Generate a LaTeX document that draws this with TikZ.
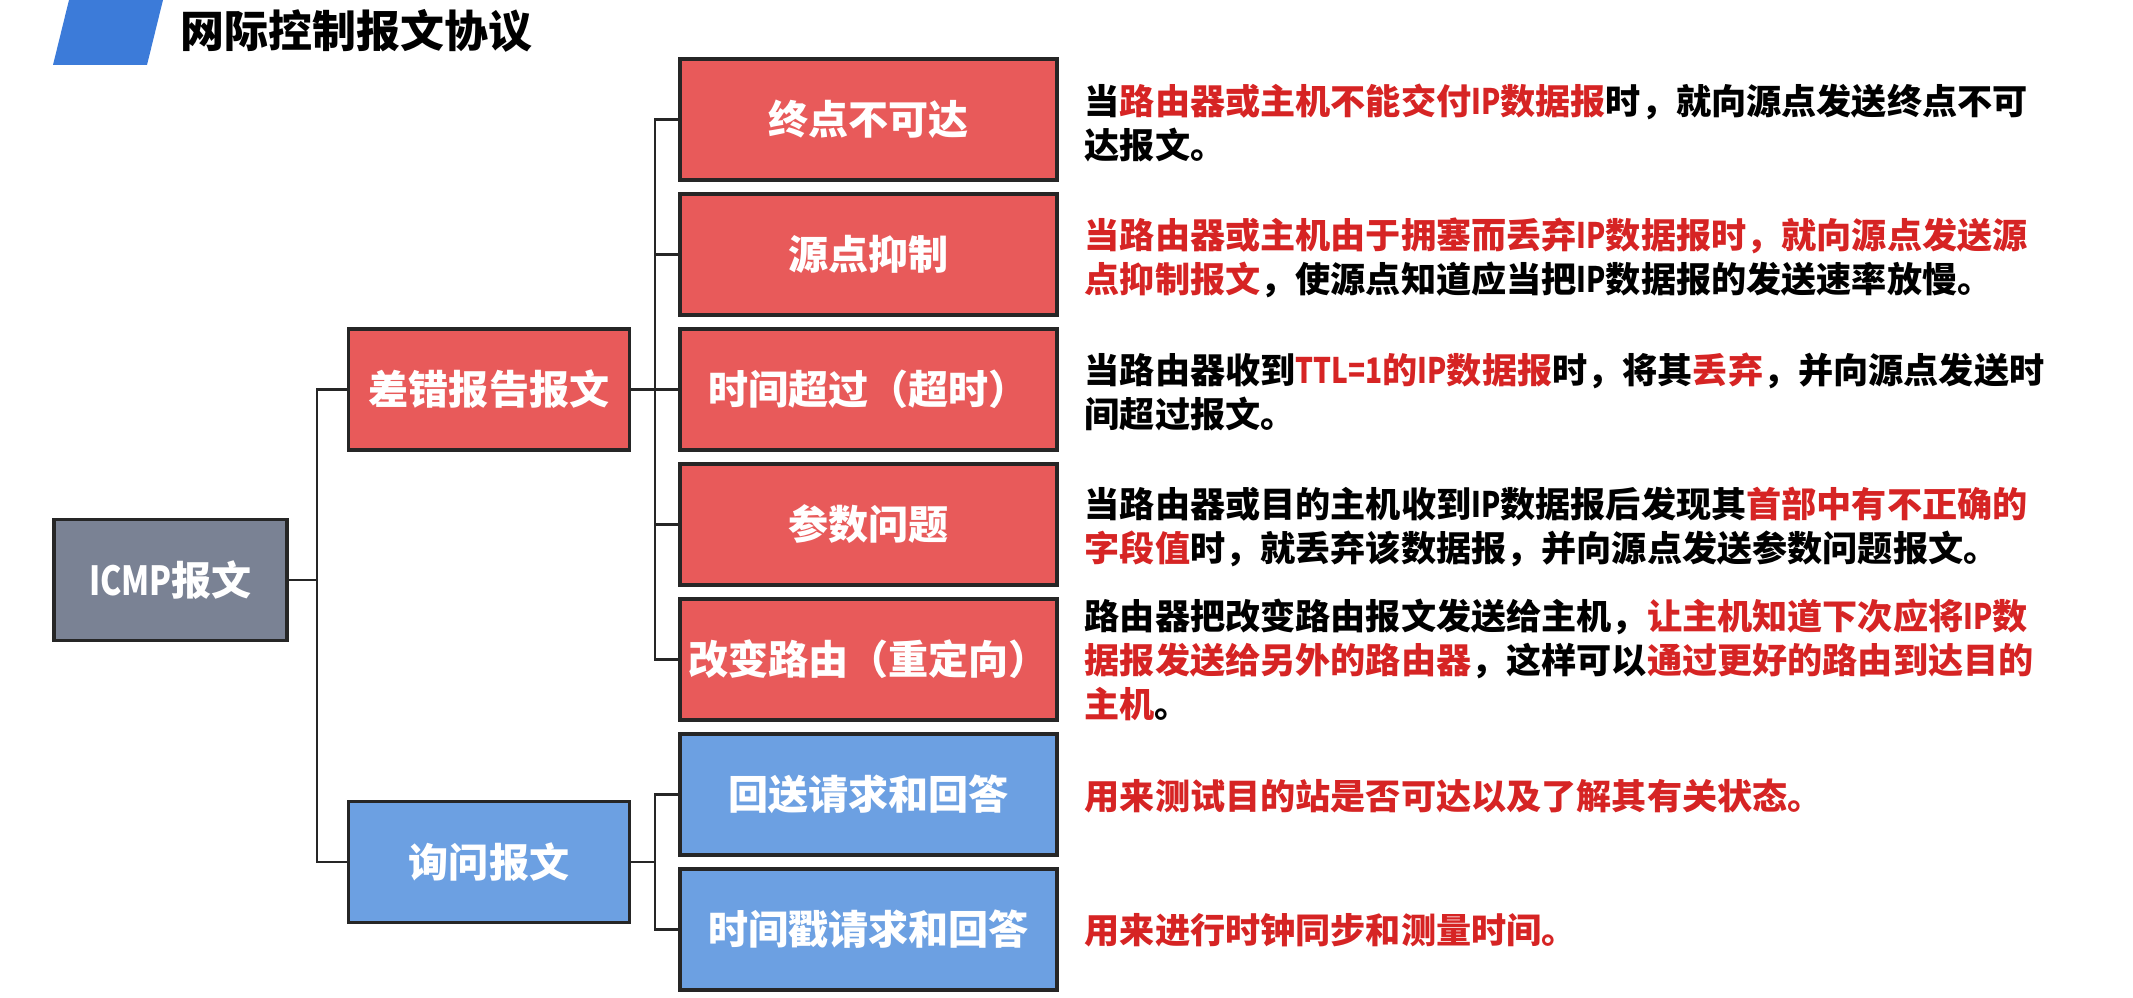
\documentclass[tikz,border=0pt]{standalone}
\usepackage{fontspec}
\setmainfont{Noto Sans CJK SC}
\usetikzlibrary{positioning,calc}
\definecolor{TitleBlue}{RGB}{60,123,217}
\definecolor{ErrRed}{RGB}{232,90,90}
\definecolor{AskBlue}{RGB}{108,160,226}
\definecolor{RootGray}{RGB}{122,130,148}
\definecolor{HotRed}{RGB}{214,36,36}
\newcommand{\hot}[1]{\textcolor{HotRed}{#1}}
\newcommand{\nar}[1]{{\addfontfeature{FakeStretch=0.8}#1}}
\tikzset{
	box/.style={draw=black!85,line width=0.9pt,text=white,inner sep=0pt,
		minimum height=12.1mm,font=\bfseries\fontsize{11.4}{13}\selectfont},
	leaf/.style={box,fill=ErrRed,minimum width=37.7mm},
	ask/.style={box,fill=AskBlue,minimum width=37.7mm},
	mid/.style={box,minimum width=28.1mm},
	note/.style={anchor=west,align=left,inner sep=0pt,
		font=\bfseries\fontsize{10}{12.5}\selectfont},
	conn/.style={draw=black!85,line width=0.7pt},
}

\begin{document}
\begin{tikzpicture}[x=0.1mm,y=-0.1mm]
	\useasboundingbox (0,0) rectangle (2133,998);
	% title bar
	\fill[TitleBlue] (53,65) -- (147,65) -- (163,0) -- (69,0) -- cycle;
	\node[anchor=west,inner sep=0pt,font=\bfseries\fontsize{12.5}{14}\selectfont] (title) at (180,31) {网际控制报文协议};

	\node[box,fill=RootGray,minimum width=23.3mm] (icmp) at (170.5,580) {\nar{ICMP}报文};
	\node[mid,fill=ErrRed] (err) at (489,389.5) {差错报告报文};
	\node[mid,fill=AskBlue] (qry) at (489,862) {询问报文};

	\foreach \n/\y/\t in {r1/119.5/终点不可达,r2/254.5/源点抑制,r3/389.5/时间超过（超时）,
		r4/524.5/参数问题,r5/659.5/改变路由（重定向）}
	\node[leaf] (\n) at (868.5,\y) {\t};
	\foreach \n/\y/\t in {b1/794.5/回送请求和回答,b2/929.5/时间戳请求和回答}
	\node[ask] (\n) at (868.5,\y) {\t};

	% connectors
	\coordinate (tA) at (317,580);
	\coordinate (tB) at (655,389.5);
	\coordinate (tC) at (655,862);
	\draw[conn] (icmp.east) -- (tA);
	\draw[conn] (err.west) -| (tA) |- (qry.west);
	\draw[conn] (err.east) -- (tB);
	\draw[conn] (qry.east) -- (tC);
	\foreach \n in {r1,r2,r3,r4,r5}
	\draw[conn] (tB) |- (\n.west);
	\foreach \n in {b1,b2}
	\draw[conn] (tC) |- (\n.west);

	% descriptions
	\node[note] (d1) at (1084,123) {当\hot{路由器或主机不能交付\nar{IP}数据报}时，就向源点发送终点不可\\达报文。};
	\node[note] (d2) at (1084,258) {\hot{当路由器或主机由于拥塞而丢弃\nar{IP}数据报时，就向源点发送源}\\\hot{点抑制报文}，使源点知道应当把\nar{IP}数据报的发送速率放慢。};
	\node[note] (d3) at (1084,392) {当路由器收到\hot{\nar{TTL=1}的\nar{IP}数据报}时，将其\hot{丢弃}，并向源点发送时\\间超过报文。};
	\node[note] (d4) at (1084,527) {当路由器或目的主机收到\nar{IP}数据报后发现其\hot{首部中有不正确的}\\\hot{字段值}时，就丢弃该数据报，并向源点发送参数问题报文。};
	\node[note] (d5) at (1084,660) {路由器把改变路由报文发送给主机，\hot{让主机知道下次应将\nar{IP}数}\\\hot{据报发送给另外的路由器}，这样可以\hot{通过更好的路由到达目的}\\\hot{主机}。};
	\node[note] (d6) at (1084,796) {\hot{用来测试目的站是否可达以及了解其有关状态。}};
	\node[note] (d7) at (1084,930) {\hot{用来进行时钟同步和测量时间。}};
\end{tikzpicture}
\end{document}
